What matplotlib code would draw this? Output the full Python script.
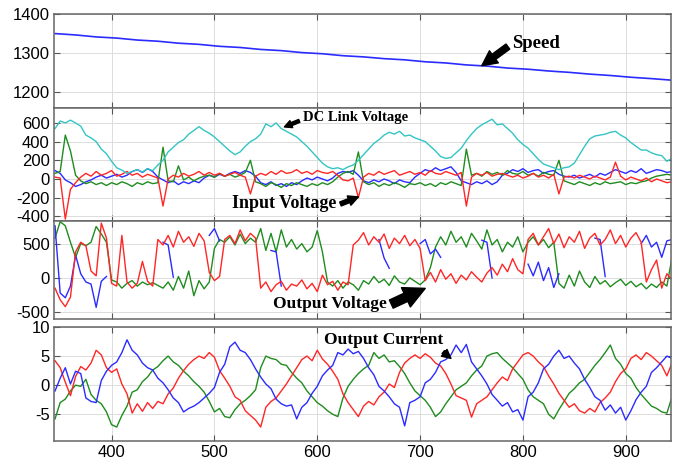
import numpy as np
import matplotlib
matplotlib.use("Agg")
import matplotlib.pyplot as plt

plt.rcParams['font.family'] = ['Liberation Sans', 'DejaVu Sans']
plt.rcParams['axes.unicode_minus'] = False

# sample times (every 5 units) for the noisy signals
t = np.arange(345, 946, 5)

# rotor speed, sampled every 20 units
speed_t = np.arange(345, 946, 20)
speed = [1350, 1346.5, 1341.5, 1338.5, 1333.5, 1330.5, 1325.5, 1322.5, 1317.5, 1314.5,
         1309.5, 1306.5, 1301.5, 1298.5, 1293.5, 1290.5, 1286, 1283, 1278, 1275,
         1270, 1267, 1262, 1259, 1254.5, 1251, 1246.5, 1243, 1238.5, 1235, 1231]

# DC link voltage (cyan)
dc_link = [540, 620, 600, 630, 600, 565, 470, 440, 400, 320,
           270, 190, 120, 95, 60, 80, 100, 75, 110, 90,
           150, 200, 290, 340, 390, 420, 480, 520, 560, 520,
           490, 450, 400, 350, 300, 260, 290, 350, 400, 430,
           480, 590, 560, 600, 540, 510, 480, 450, 400, 350,
           290, 230, 170, 130, 110, 120, 100, 130, 150, 200,
           260, 320, 380, 420, 470, 500, 480, 510, 460, 470,
           440, 420, 400, 350, 300, 240, 220, 230, 280, 330,
           410, 480, 540, 580, 610, 640, 580, 590, 540, 490,
           420, 370, 330, 270, 210, 160, 140, 120, 100, 120,
           130, 170, 260, 350, 430, 460, 470, 480, 500, 510,
           470, 440, 390, 350, 310, 310, 280, 260, 250, 190,
           220]

# input phase voltages
vin_r = [20, 10, -430, -110, -40, 20, 60, 30, 80, 40,
         60, 90, 30, 50, 80, 40, 60, 20, 50, 30,
         10, -290, 0, 40, 20, 60, 30, 50, 80, 40,
         70, 40, 60, 30, 50, 70, 40, 20, -160, 30,
         60, 40, 80, 50, 90, 60, 70, 100, 60, 80,
         50, 90, 70, 60, 80, 40, -10, -20, 10, -200,
         20, 60, 40, 80, 50, 70, 90, 40, 60, 80,
         50, 70, 40, 90, 60, 50, 80, 60, 40, 70,
         -290, 20, 60, 40, 70, 30, 50, 60, 40, 20,
         40, 10, 30, 60, 20, 40, 10, 50, -160, 20,
         30, 10, 40, 20, 0, 30, 10, -10, 20, 180,
         30, -10, 20, 0, -20, 10, -30, 0, -20, -40,
         -30]
vin_g = [60, 80, 470, 300, 40, -20, -50, -30, -60, -40,
         -70, -40, -60, -30, -50, -80, -40, -60, -30, -50,
         -40, 340, -20, -30, 140, -10, 20, -20, 10, 30,
         40, 20, 60, 30, 50, 20, 40, 70, 200, -30,
         -50, -80, -40, -60, -90, -50, -70, -40, -60, -80,
         -50, -70, -40, -60, -30, 20, 60, 80, 50, 290,
         -30, -60, -40, -80, -50, -70, -40, -60, -90, -50,
         -60, -40, -70, -50, -80, -40, -60, -30, -50, -70,
         320, 40, 60, 30, 80, 50, 70, 40, 90, 60,
         50, 80, 40, 60, 30, 70, 50, 40, 200, -20,
         -40, -60, -30, -50, -70, -40, -60, -30, -50, -40,
         -30, -60, -40, -50, -30, -20, 10, 30, 40, 50,
         40]
vin_b = [90, 60, -10, -40, -80, -60, -30, -10, 20, 40,
         10, 30, 50, 20, 40, 80, 100, 70, 110, 80,
         20, -10, -40, -20, -60, -30, -50, -20, -40, 10,
         40, 20, 50, 30, 60, 80, 60, 90, 70, 30,
         -40, -60, -30, -70, -50, -80, -40, -60, -20, 10,
         -10, 20, 0, -20, 10, 60, 80, 70, 90, 40,
         -20, -40, -10, -30, 0, -20, -50, -10, -30, -40,
         20, 60, 100, 80, 120, 90, 110, 130, 70, -20,
         -40, -60, -30, -50, -20, -60, -30, 40, 60, 100,
         80, 110, 70, 90, 100, 60, 80, 90, 50, 30,
         20, 40, 10, 30, 50, 20, 60, 40, 70, 100,
         80, 60, 90, 70, 110, 60, 80, 100, 90, 70,
         80]

# output phase voltages (blue only where it shows from under the others)
vout_r = [-150, -320, -420, -280, 380, 520, 470, 100, 30, 800,
          580, -80, -120, 620, -60, -150, -80, 240, -50, -120,
          560, 480, 620, 450, 680, 520, 600, 460, 650, 540,
          80, -40, 20, 560, 620, 500, 700, 540, 650, 580,
          -150, -60, -200, -100, -50, -180, -90, -120, -30, -160,
          -80, -200, 40, -100, -50, -180, -60, -100, 480, 550,
          660, 480, 600, 520, 640, 430, 580, 500, 620, 470,
          560, 430, -40, 80, -60, 120, -20, 60, -80, 40,
          -30, 90, 10, -60, 70, 150, 40, 200, 90, 280,
          120, 60, 560, 650, 480, 600, 720, 500, 640, 440,
          600, 520, 680, 430, 580, 650, 480, 560, 700, 500,
          620, 450, 580, 660, 520, -60, 120, 260, -150, 60,
          -30]
vout_g = [580, 820, 760, 520, 300, 500, 470, 520, 750, 640,
          520, -30, -60, -150, -80, -40, -120, -60, -100, -70,
          -110, -150, -60, -180, 20, -150, 100, -260, -40, -160,
          -60, 430, 560, 520, 600, 480, 640, 500, 580, 520,
          720, 400, 650, 380, 700, 450, 560, 420, 500, 380,
          450, 690, 380, -60, -120, -40, -150, -60, -100, -180,
          -40, -90, 20, -70, -20, -110, 30, -60, -90, 0,
          -50, -100, -30, 150, 450, 600, 480, 680, 520, 600,
          450, 650, 540, 420, 700, 480, 560, 380, 520, 450,
          600, 380, 520, 600, 480, 560, 440, 520, -80, -150,
          40, -120, 100, -60, -140, 20, -90, -40, -130, -70,
          -20, -110, -50, -130, -80, -160, -90, -140, -60, -120,
          300]
N = None
vout_b = [760, -220, -290, -120, 330, 60, -60, -90, -430, -50,
          20, N, N, N, N, N, N, N, N, N,
          N, 520, 480, 10, N, N, N, N, N, N,
          620, 720, 540, N, N, N, N, N, N, N,
          N, N, 400, 380, -120, N, N, N, N, N,
          N, N, N, N, N, N, N, N, N, N,
          N, N, N, 560, 290, 140, N, N, N, N,
          N, 500, 560, 350, 420, 300, N, N, N, N,
          N, N, N, 550, 520, 0, N, N, N, N,
          N, N, 200, 30, 230, -40, 150, -140, 60, N,
          N, N, N, N, N, 580, 560, 20, N, N,
          N, N, N, N, 500, 620, 450, 520, 300, 540,
          560]

# output phase currents
iout_r = [4.2, 3.0, 0.5, -1.8, 1.5, 3.2, 2.6, 3.8, 6.0, 5.2,
          3.0, 2.2, 2.8, 0.2, -1.5, -4.8, -3.2, -4.5, -3.0, -4.0,
          -2.8, -3.2, -1.5, -0.5, 1.2, 2.5, 3.6, 4.4, 5.0, 4.6,
          5.6, 4.8, 2.5, 1.2, -0.2, -2.0, -2.6, -4.4, -5.2, -6.0,
          -7.2, -3.8, -2.8, -2.2, -1.0, 0.2, 1.6, 3.0, 4.4, 5.0,
          4.2, 6.0, 4.5, 3.6, 2.4, 1.0, -1.5, -3.0, -4.2, -5.4,
          -3.6, -2.8, -3.4, -2.0, -1.2, 0.2, -0.4, 2.2, 3.8, 4.6,
          5.2, 4.6, 5.4, 4.8, 3.8, 3.3, 2.0, 0.2, -1.8, -2.2,
          -2.6, -5.5, -3.2, -2.6, -2.0, -0.8, 0.4, 1.4, 0.8, 2.8,
          4.0, 5.2, 5.6, 5.0, 4.0, 3.2, 1.6, 0.2, -1.4, -2.6,
          -3.8, -3.2, -4.4, -4.8, -4.0, -4.6, -3.0, -2.2, -1.2, 0.6,
          2.0, 2.8, 4.6, 5.2, 4.4, 5.6, 5.0, 4.2, 3.4, 1.6,
          3.8]
iout_b = [-1.0, 1.2, 3.0, 0.2, 2.4, 2.0, -2.2, -2.8, -3.0, 0.8,
          2.4, 3.4, 4.0, 5.6, 7.8, 6.0, 5.2, 3.8, 3.0, 2.6,
          1.2, 0.4, -0.8, -2.2, -3.0, -4.6, -4.0, -3.6, -3.0, -2.2,
          -1.4, -0.4, 2.2, 3.6, 6.6, 7.4, 6.0, 5.6, 4.4, 2.8,
          1.4, 0.2, -0.6, -2.4, -3.2, -3.6, -3.4, -5.8, -3.8, -3.0,
          -1.4, -0.2, 1.6, 2.6, 3.4, 5.6, 5.2, 6.2, 5.4, 5.8,
          4.6, 3.0, 1.8, -0.2, -1.0, -2.0, -3.2, -3.8, -7.0, -3.0,
          -2.6, -2.0, 0.4, 1.0, 2.2, 4.0, 4.4, 5.2, 6.9, 5.6,
          7.0, 4.0, 2.8, 1.6, 0.2, -1.6, -2.6, -3.6, -3.0, -4.6,
          -4.2, -6.0, -2.0, -1.2, 0.4, 2.8, 3.6, 5.0, 6.0, 4.6,
          5.0, 3.8, 2.8, 1.0, -0.4, -2.0, -2.6, -4.3, -3.4, -4.8,
          -3.8, -6.0, -4.4, -2.5, -1.2, -0.2, 2.2, 3.0, 4.0, 5.0,
          4.6]
iout_g = [-5.8, -3.0, -2.4, -1.0, 0.0, -0.2, 1.0, -1.6, -2.6, -3.2,
          -4.6, -6.8, -7.2, -5.2, -3.6, -1.2, -0.8, 0.6, 1.4, 2.6,
          3.2, 4.2, 5.0, 4.0, 3.4, 2.4, 1.6, 0.6, -0.2, -1.2,
          -2.8, -4.6, -4.0, -5.4, -5.6, -4.2, -3.2, -2.6, -1.8, -0.8,
          3.0, 5.0, 4.6, 4.4, 3.6, 3.4, 2.2, 1.2, 0.4, -1.0,
          -2.0, -3.0, -3.6, -4.4, -5.0, -5.4, -2.2, -0.2, 1.0, 2.0,
          2.8, 3.4, 5.6, 4.6, 5.2, 4.0, 4.2, 3.2, 2.0, 0.4,
          -1.0, -1.8, -2.6, -3.8, -5.4, -4.6, -3.2, -2.0, -0.8, -0.2,
          0.4, 1.6, 2.6, 3.3, 5.0, 5.4, 5.6, 4.6, 3.8, 3.0,
          2.0, 1.0, -0.8, -2.0, -2.6, -3.2, -5.0, -5.8, -4.2, -2.8,
          -1.4, -0.6, 0.4, 1.0, 2.2, 3.4, 4.4, 5.6, 6.9, 4.6,
          3.6, 2.0, 1.2, -0.4, -1.6, -2.6, -3.6, -4.0, -4.6, -4.8,
          -2.0]

BLUE, RED, GREEN, CYAN = '#2b2bff', '#ff2626', '#1f8c1f', '#33c4c4'
serif = ['Liberation Serif', 'DejaVu Serif']
LW = 1.0

fig = plt.figure(figsize=(6.8, 4.65), dpi=100)
W, H = 680.0, 465.0
# panel rectangles in pixels: top, bottom
boxes = [(14, 108), (108, 221), (221, 319), (327, 441)]
axes = []
for top, bot in boxes:
    ax = fig.add_axes([54 / W, (H - bot) / H, 617 / W, (bot - top) / H])
    axes.append(ax)

for ax in axes:
    ax.set_xlim(344, 944)
    ax.set_xticks(range(400, 901, 100))
    ax.grid(True, color='#dcdcdc', lw=0.7)
    ax.set_axisbelow(True)
    ax.tick_params(direction='in', length=4, top=True, right=True,
                   labelsize=12, color='#555555', pad=3)
    for s in ax.spines.values():
        s.set_color('#666666')
        s.set_linewidth(1.1)
for ax in axes[:-1]:
    ax.tick_params(labelbottom=False)

ax1, ax2, ax3, ax4 = axes

# speed
ax1.plot(speed_t, speed, color=BLUE, lw=1.2)
ax1.set_ylim(1160, 1400)
ax1.set_yticks([1200, 1300, 1400])

# DC link and input voltages
ax2.plot(t, vin_b, color=BLUE, lw=LW)
ax2.plot(t, vin_g, color=GREEN, lw=LW)
ax2.plot(t, vin_r, color=RED, lw=LW)
ax2.plot(t, dc_link, color=CYAN, lw=LW)
ax2.set_ylim(-450, 760)
ax2.set_yticks(range(-400, 601, 200))

# output voltages
ax3.plot(t, vout_g, color=GREEN, lw=LW)
ax3.plot(t, np.array(vout_b, dtype=float), color=BLUE, lw=LW)
ax3.plot(t, vout_r, color=RED, lw=LW)
ax3.set_ylim(-600, 830)
ax3.set_yticks([-500, 0, 500])

# output currents
ax4.plot(t, iout_g, color=GREEN, lw=LW)
ax4.plot(t, iout_r, color=RED, lw=LW)
ax4.plot(t, iout_b, color=BLUE, lw=LW)
ax4.set_ylim(-9.6, 10)
ax4.set_yticks([-5, 0, 5, 10])


def label(ax, text, tip, off, size, ha, rel, scale):
    ax.annotate(text, xy=tip, xytext=off, textcoords='offset pixels',
                ha=ha, va='center', fontsize=size, fontweight='bold',
                family=serif, annotation_clip=False,
                arrowprops=dict(arrowstyle='simple,head_length=0.9,head_width=0.9,tail_width=0.38',
                                fc='black', ec='black', mutation_scale=scale,
                                shrinkA=1, shrinkB=0, relpos=rel))


label(ax1, 'Speed', (760, 1268), (30, 22), 13.5, 'left', (0, 0.5), 12)
label(ax2, 'DC Link Voltage', (568, 557), (19, 9), 10.5, 'left', (0, 0.4), 6)
label(ax2, 'Input Voltage', (640, -192), (-22, -7), 13, 'right', (1, 0.4), 8)
label(ax3, 'Output Voltage', (705, -153), (-38, -16), 12.5, 'right', (1, 0.4), 17)
label(ax4, 'Output Current', (730, 4.6), (-8, 18), 12.5, 'right', (0.95, 0.1), 7)

fig.savefig('out.png', dpi=100)
